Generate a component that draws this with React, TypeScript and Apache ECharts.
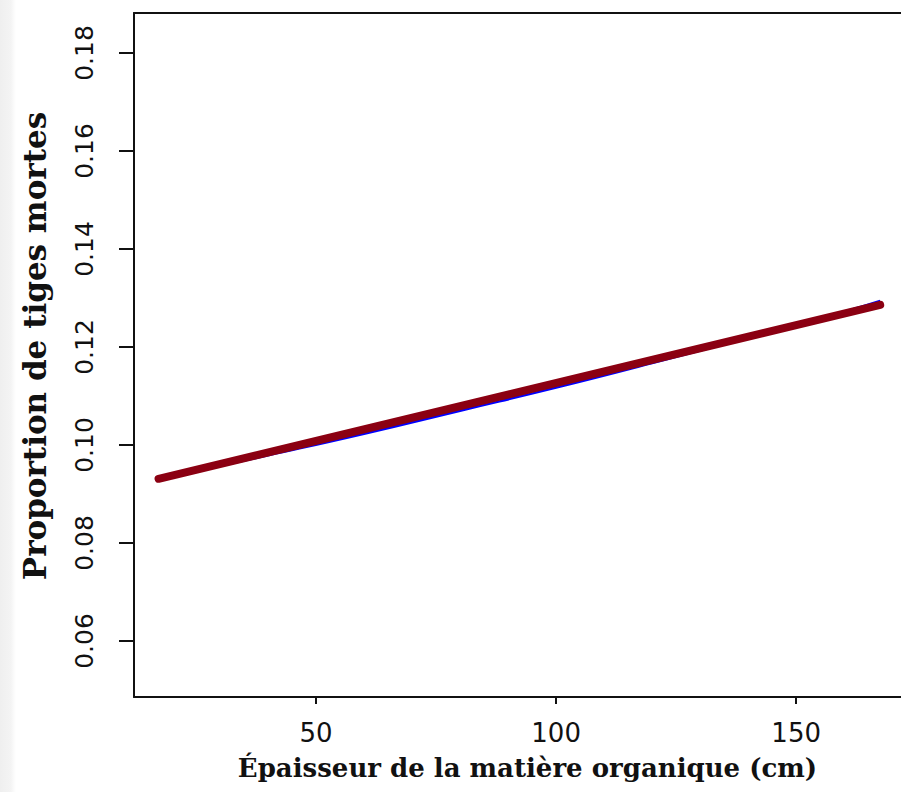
import React, { useEffect, useRef } from "react";
import * as echarts from "echarts";

const xTicks = [50, 100, 150];
const yTicks = [0.06, 0.08, 0.1, 0.12, 0.14, 0.16, 0.18];

// blue: fitted curve (thin), slightly convex
const blueX = [17.2, 40, 60, 80, 100, 120, 140, 160, 167.5];
const blueY = [0.093, 0.0979, 0.1023, 0.107, 0.1117, 0.1167, 0.1219, 0.1272, 0.1294];

// dark red: straight fitted line (thick)
const redX = [17.2, 167.5];
const redY = [0.0931, 0.1286];

const xTitle = "Épaisseur de la matière organique (cm)";
const yTitle = "Proportion de tiges mortes";

const X_MIN = 12.08;
const X_MAX = 173.5;

export default function App() {
  const ref = useRef<HTMLDivElement>(null);
  useEffect(() => {
    if (!ref.current) return;
    const chart = echarts.init(ref.current, null, { renderer: "svg" });
    const line = { show: true, lineStyle: { color: "#111", width: 2 } };
    chart.setOption({
      animation: false,
      backgroundColor: "transparent",
      grid: {
        left: 134,
        top: 13,
        bottom: 95,
        right: -8,
        outerBoundsMode: "none",
        containLabel: false,
        show: false,
      },
      xAxis: [
        {
          type: "value",
          position: "bottom",
          min: X_MIN,
          max: X_MAX,
          axisLine: line,
          splitLine: { show: false },
          axisTick: { show: true, customValues: xTicks, length: 7, lineStyle: { color: "#111", width: 2 } },
          axisLabel: { customValues: xTicks, fontFamily: "DejaVu Sans", fontSize: 26, color: "#111", margin: 23 },
          name: xTitle,
          nameLocation: "middle",
          nameGap: 58,
          nameTextStyle: {
            fontFamily: "DejaVu Serif",
            fontWeight: "bold",
            fontSize: 26,
            color: "#111",
            padding: [0, 0, 0, 12],
          },
        },
        {
          type: "value",
          position: "top",
          min: X_MIN,
          max: X_MAX,
          axisLine: line,
          splitLine: { show: false },
          axisTick: { show: false },
          axisLabel: { show: false },
        },
      ],
      yAxis: {
        type: "value",
        min: 0.04857,
        max: 0.18816,
        axisLine: line,
        splitLine: { show: false },
        axisTick: { show: true, customValues: yTicks, length: 15, lineStyle: { color: "#111", width: 2 } },
        axisLabel: {
          customValues: yTicks,
          rotate: 90,
          formatter: (v: number) => v.toFixed(2),
          fontFamily: "DejaVu Sans",
          fontSize: 25,
          color: "#111",
          margin: 37,
        },
        name: yTitle,
        nameLocation: "middle",
        nameGap: 84,
        nameTextStyle: { fontFamily: "DejaVu Serif", fontWeight: "bold", fontSize: 31, color: "#111", padding: [0, 0, 0, 18] },
      },
      series: [
        { type: "line", data: blueX.map((x, i) => [x, blueY[i]]), showSymbol: false, smooth: true, lineStyle: { color: "#0000FF", width: 2.5 }, z: 2 },
        { type: "line", data: redX.map((x, i) => [x, redY[i]]), showSymbol: false, lineStyle: { color: "#8B0012", width: 8, cap: "round" }, z: 3 },
      ],
    });
    return () => chart.dispose();
  }, []);
  return (
    <div
      style={{
        position: "fixed",
        left: 0,
        top: 0,
        width: 901,
        height: 792,
        overflow: "hidden",
        background: "linear-gradient(to right, #efefef 0px, #f4f4f4 11px, #fbfbfb 14px, #ffffff 16px)",
      }}
    >
      <div ref={ref} style={{ width: 901, height: 792 }} />
    </div>
  );
}
